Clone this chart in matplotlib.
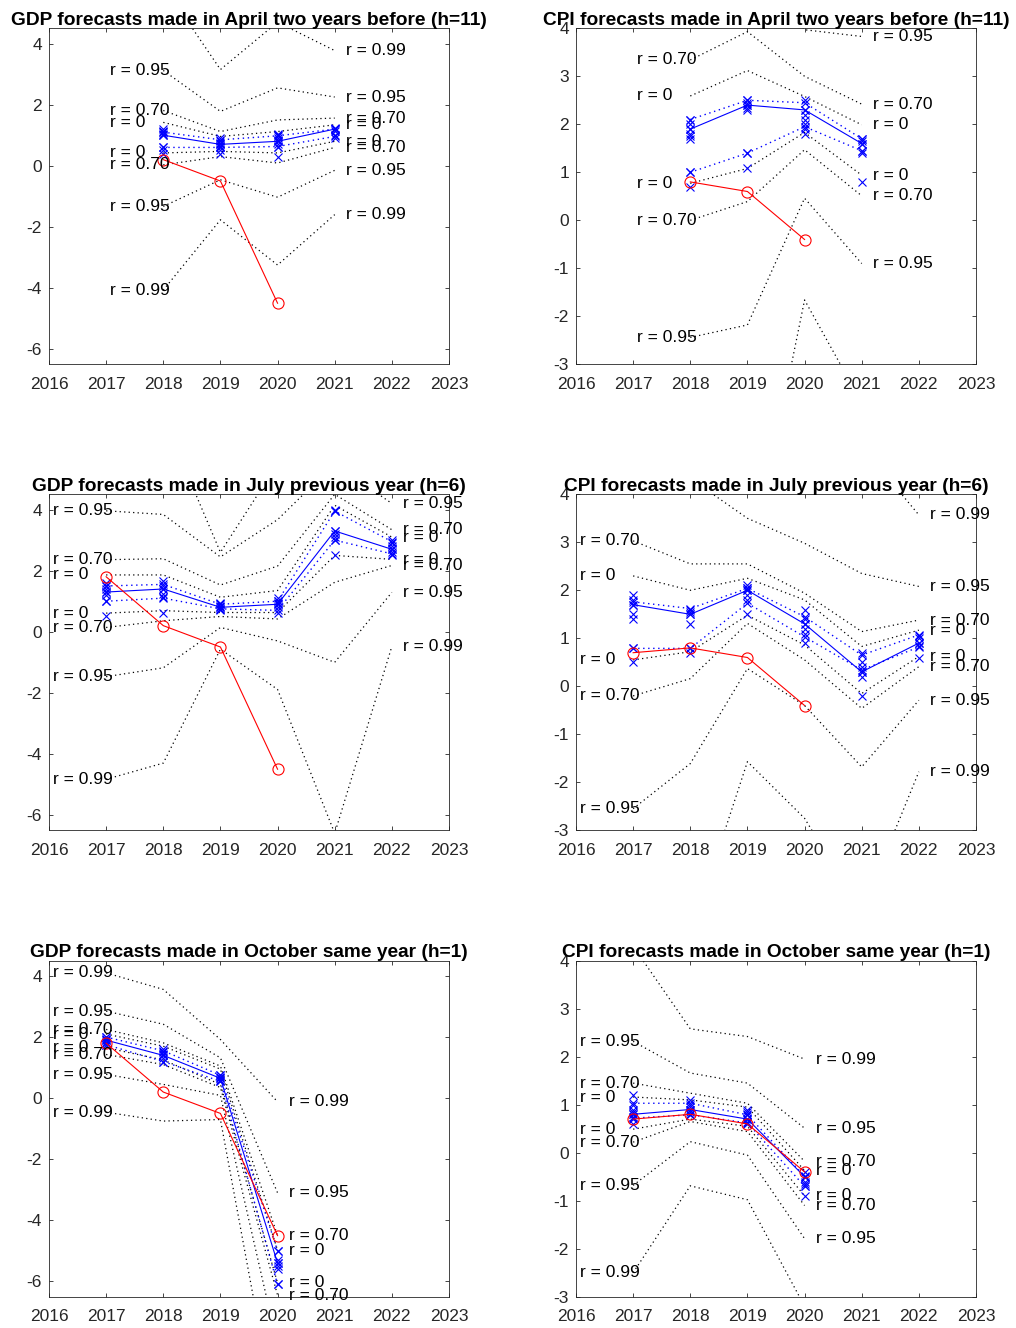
import matplotlib
matplotlib.use('Agg')
import matplotlib.pyplot as plt

plt.rcParams['font.family'] = ['Liberation Sans', 'DejaVu Sans']

band_labels = ['r = 0', 'r = 0.70', 'r = 0.95', 'r = 0.99']
year_ticks = [2016, 2017, 2018, 2019, 2020, 2021, 2022, 2023]
gdp_yticks = [-6, -4, -2, 0, 2, 4]
cpi_yticks = [-3, -2, -1, 0, 1, 2, 3, 4]

# ---------------- GDP, April two years before (h=11) ----------------
gdp11_years = [2018, 2019, 2020, 2021]
gdp11_actual = [0.2, -0.5, -4.5]
gdp11_mean = [1.0, 0.7, 0.8, 1.2]
gdp11_points = [[1.2, 1.15, 1.1, 1.05, 1.0, 0.6, 0.5, 0.4],
                [0.9, 0.8, 0.75, 0.7, 0.65, 0.6, 0.5, 0.4],
                [1.05, 1.0, 0.9, 0.85, 0.8, 0.7, 0.6, 0.3],
                [1.25, 1.2, 1.15, 1.0, 0.9]]
gdp11_hi = [1.1, 0.85, 0.98, 1.2]
gdp11_lo = [0.6, 0.6, 0.63, 0.96]
gdp11_upper = [[1.42, 0.96, 1.12, 1.34], [1.81, 1.12, 1.5, 1.56],
               [3.12, 1.78, 2.55, 2.25], [5.9, 3.15, 4.7, 3.77]]
gdp11_lower = [[0.42, 0.47, 0.42, 0.80], [0.03, 0.30, 0.09, 0.6],
               [-1.33, -0.46, -1.03, -0.15], [-4.07, -1.77, -3.25, -1.6]]

# ---------------- CPI, April two years before (h=11) ----------------
cpi11_years = [2018, 2019, 2020, 2021]
cpi11_actual = [0.8, 0.6, -0.4]
cpi11_mean = [1.9, 2.4, 2.3, 1.6]
cpi11_points = [[2.1, 2.0, 1.9, 1.8, 1.75, 1.7, 1.0, 0.7],
                [2.5, 2.45, 2.4, 2.35, 2.3, 1.4, 1.1],
                [2.5, 2.3, 2.2, 2.1, 2.0, 1.9, 1.8],
                [1.7, 1.65, 1.6, 1.45, 1.4, 0.8]]
cpi11_hi = [2.1, 2.5, 2.45, 1.7]
cpi11_lo = [1.0, 1.4, 1.95, 1.45]
cpi11_upper = [[2.59, 3.12, 2.58, 1.99], [3.34, 3.93, 3.0, 2.42],
               [6.0, 5.5, 3.97, 3.83], [8.5, 8.0, 7.0, 6.5]]
cpi11_lower = [[0.77, 1.08, 1.83, 0.94], [0.0, 0.39, 1.47, 0.51],
               [-2.44, -2.18, 0.46, -0.9], [-10.0, -7.5, -1.66, -3.8]]

# ---------------- GDP, July previous year (h=6) ----------------
gdp6_years = [2017, 2018, 2019, 2020, 2021, 2022]
gdp6_actual = [1.8, 0.2, -0.5, -4.5]
gdp6_mean = [1.3, 1.4, 0.8, 0.9, 3.3, 2.7]
gdp6_points = [[1.6, 1.5, 1.4, 1.3, 1.2, 1.0, 0.5],
               [1.65, 1.5, 1.4, 1.25, 1.15, 0.6],
               [0.95, 0.9, 0.85, 0.8, 0.75, 0.7],
               [1.1, 1.0, 0.95, 0.9, 0.8, 0.6],
               [4.0, 3.95, 3.3, 3.2, 3.1, 3.0, 2.5],
               [3.0, 2.9, 2.8, 2.7, 2.6, 2.5]]
gdp6_hi = [1.5, 1.55, 0.9, 1.0, 3.95, 2.95]
gdp6_lo = [1.0, 1.1, 0.75, 0.7, 3.0, 2.55]
gdp6_upper = [[1.86, 1.86, 1.13, 1.35, 4.14, 3.1], [2.36, 2.39, 1.53, 2.15, 4.5, 3.34],
              [3.96, 3.84, 2.45, 3.67, 5.5, 4.2], [7.5, 7.0, 2.6, 5.5, 9.0, 6.0]]
gdp6_lower = [[0.61, 0.69, 0.63, 0.63, 2.5, 2.37], [0.14, 0.36, 0.5, 0.42, 1.62, 2.17],
              [-1.47, -1.18, 0.14, -0.3, -1.0, 1.29], [-4.83, -4.3, -0.57, -1.89, -6.6, -0.48]]

# ---------------- CPI, July previous year (h=6) ----------------
cpi6_years = [2017, 2018, 2019, 2020, 2021, 2022]
cpi6_actual = [0.7, 0.8, 0.6, -0.4]
cpi6_mean = [1.7, 1.5, 2.0, 1.3, 0.3, 0.9]
cpi6_points = [[1.9, 1.8, 1.7, 1.5, 1.4, 0.8, 0.5],
               [1.6, 1.55, 1.5, 1.3, 0.8, 0.7],
               [2.1, 2.05, 2.0, 1.9, 1.8, 1.5],
               [1.6, 1.4, 1.3, 1.2, 1.1, 0.9],
               [0.7, 0.5, 0.4, 0.3, 0.2, -0.2],
               [1.05, 1.0, 0.9, 0.85, 0.6]]
cpi6_hi = [1.76, 1.62, 2.04, 1.45, 0.65, 1.07]
cpi6_lo = [0.79, 0.79, 1.73, 1.03, 0.34, 0.82]
cpi6_upper = [[2.3, 2.0, 2.25, 1.8, 0.83, 1.17], [3.03, 2.55, 2.55, 1.94, 1.14, 1.38],
              [5.0, 4.33, 3.5, 2.98, 2.35, 2.08], [7.5, 7.0, 6.5, 6.0, 5.0, 3.57]]
cpi6_lower = [[0.55, 0.72, 1.48, 0.86, -0.15, 0.62], [-0.2, 0.16, 1.31, 0.55, -0.46, 0.41],
              [-2.55, -1.61, 0.37, -0.4, -1.68, -0.29], [-8.0, -5.2, -1.57, -2.75, -4.7, -1.78]]

# ---------------- GDP, October same year (h=1) ----------------
gdp1_years = [2017, 2018, 2019, 2020]
gdp1_actual = [1.8, 0.2, -0.5, -4.5]
gdp1_mean = [1.9, 1.4, 0.65, -5.4]
gdp1_points = [[2.0, 1.95, 1.9, 1.85, 1.8, 1.75],
               [1.6, 1.5, 1.45, 1.4, 1.3, 1.2],
               [0.75, 0.7, 0.65, 0.6, 0.55],
               [-5.0, -5.3, -5.4, -5.5, -5.6, -6.1]]
gdp1_hi = [2.0, 1.55, 0.75, -5.0]
gdp1_lo = [1.75, 1.2, 0.55, -6.1]
gdp1_upper = [[2.1, 1.7, 0.95, -4.98], [2.25, 1.81, 1.05, -4.5],
              [2.85, 2.42, 1.32, -3.1], [4.1, 3.56, 1.92, -0.12]]
gdp1_lower = [[1.65, 1.25, 0.45, -6.05], [1.43, 1.1, 0.35, -6.45],
              [0.78, 0.45, 0.09, -8.1], [-0.46, -0.75, -0.7, -10.8]]

# ---------------- CPI, October same year (h=1) ----------------
cpi1_years = [2017, 2018, 2019, 2020]
cpi1_actual = [0.7, 0.8, 0.6, -0.4]
cpi1_mean = [0.8, 0.9, 0.7, -0.5]
cpi1_points = [[1.2, 1.0, 0.9, 0.85, 0.8, 0.75, 0.7, 0.6],
               [1.1, 1.0, 0.95, 0.9, 0.85, 0.8],
               [0.9, 0.85, 0.8, 0.7, 0.65, 0.6],
               [-0.4, -0.5, -0.6, -0.65, -0.7, -0.9]]
cpi1_hi = [1.03, 1.03, 0.79, -0.49]
cpi1_lo = [0.72, 0.79, 0.62, -0.7]
cpi1_upper = [[1.16, 1.1, 0.95, -0.37], [1.45, 1.24, 1.03, -0.18],
              [2.32, 1.66, 1.45, 0.51], [4.3, 2.58, 2.42, 1.95]]
cpi1_lower = [[0.49, 0.7, 0.55, -0.9], [0.22, 0.65, 0.44, -1.1],
              [-0.68, 0.23, -0.05, -1.79], [-2.5, -0.69, -0.98, -3.2]]

titles = ['GDP forecasts made in April two years before (h=11)',
          'CPI forecasts made in April two years before (h=11)',
          'GDP forecasts made in July previous year (h=6)',
          'CPI forecasts made in July previous year (h=6)',
          'GDP forecasts made in October same year (h=1)',
          'CPI forecasts made in October same year (h=1)']

panels = [
    (gdp11_years, gdp11_actual, gdp11_mean, gdp11_points, gdp11_hi, gdp11_lo, gdp11_upper, gdp11_lower, 'gdp'),
    (cpi11_years, cpi11_actual, cpi11_mean, cpi11_points, cpi11_hi, cpi11_lo, cpi11_upper, cpi11_lower, 'cpi'),
    (gdp6_years, gdp6_actual, gdp6_mean, gdp6_points, gdp6_hi, gdp6_lo, gdp6_upper, gdp6_lower, 'gdp'),
    (cpi6_years, cpi6_actual, cpi6_mean, cpi6_points, cpi6_hi, cpi6_lo, cpi6_upper, cpi6_lower, 'cpi'),
    (gdp1_years, gdp1_actual, gdp1_mean, gdp1_points, gdp1_hi, gdp1_lo, gdp1_upper, gdp1_lower, 'gdp'),
    (cpi1_years, cpi1_actual, cpi1_mean, cpi1_points, cpi1_hi, cpi1_lo, cpi1_upper, cpi1_lower, 'cpi'),
]

W, H = 1016, 1328
fig = plt.figure(figsize=(W / 100, H / 100), dpi=100)

col_left = [49 / W, 576 / W]
ax_w = 400 / W
row_top = [28.3, 494.3, 960.7]
ax_hpx = 336.0

dark = '#262626'
dot_style = (0, (1, 2.6))

for k, (yrs, act, mean, pts, hi, lo, upper, lower, kind) in enumerate(panels):
    r, c = divmod(k, 2)
    bottom = 1 - (row_top[r] + ax_hpx) / H
    ax = fig.add_axes([col_left[c], bottom, ax_w, ax_hpx / H])
    ylim = (-6.5, 4.5) if kind == 'gdp' else (-3, 4)
    yt = gdp_yticks if kind == 'gdp' else cpi_yticks

    # confidence bands (black dotted) with labels at both ends
    for lab, up, lw in zip(band_labels, upper, lower):
        for series in (up, lw):
            ax.plot(yrs, series, color='black', linestyle=dot_style, linewidth=0.9, zorder=2)
            if ylim[0] <= series[0] <= ylim[1]:
                ax.annotate(lab, xy=(yrs[0] - 1, series[0]), xytext=(3, 0), textcoords='offset points',
                            ha='left', va='center', fontsize=12.5, color='black',
                            annotation_clip=False, zorder=6)
            if ylim[0] <= series[-1] <= ylim[1]:
                ax.annotate(lab, xy=(yrs[-1], series[-1]), xytext=(8.2, 0), textcoords='offset points',
                            ha='left', va='center', fontsize=12.5, color='black',
                            annotation_clip=False, zorder=6)

    # blue dotted lines
    for series in (hi, lo):
        ax.plot(yrs, series, color='blue', linestyle=dot_style, linewidth=1.0, marker='x',
                markersize=6, markeredgewidth=0.8, zorder=3)
    # individual forecasts
    for yr, vals in zip(yrs, pts):
        ax.plot([yr] * len(vals), vals, linestyle='none', marker='x', color='blue',
                markersize=6, markeredgewidth=0.8, zorder=3)
    # mean forecast
    ax.plot(yrs, mean, color='blue', linewidth=0.8, marker='x', markersize=6,
            markeredgewidth=0.8, zorder=4)
    # actual outcome
    ax.plot(yrs[:len(act)], act, color='red', linewidth=0.8, marker='o', markersize=8,
            markerfacecolor='none', markeredgewidth=0.8, zorder=5)

    ax.set_xlim(2016, 2023)
    ax.set_ylim(*ylim)
    ax.set_xticks(year_ticks)
    ax.set_yticks(yt)
    ax.set_xticklabels([str(y) for y in year_ticks])
    ax.set_yticklabels([str(v) for v in yt])
    ax.tick_params(direction='in', top=True, right=True, length=3, width=0.6,
                   color=dark, labelcolor=dark, labelsize=12.5)
    ax.tick_params(axis='x', pad=9)
    ax.tick_params(axis='y', pad=5)
    for sp in ax.spines.values():
        sp.set_color(dark)
        sp.set_linewidth(0.6)
    ax.set_title(titles[k], fontsize=13.75, fontweight='bold', pad=2.5)

fig.savefig('out.png', dpi=100)
